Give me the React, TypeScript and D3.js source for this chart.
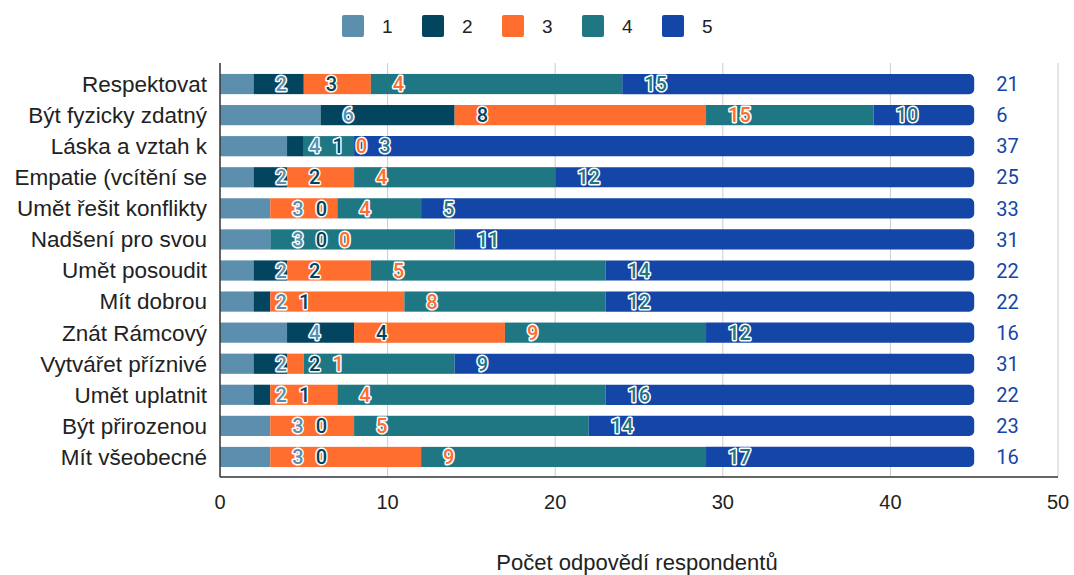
import React from "react";
import * as d3 from "d3";

const categories = [
  "Respektovat",
  "Být fyzicky zdatný",
  "Láska a vztah k",
  "Empatie (vcítění se",
  "Umět řešit konflikty",
  "Nadšení pro svou",
  "Umět posoudit",
  "Mít dobrou",
  "Znát Rámcový",
  "Vytvářet příznivé",
  "Umět uplatnit",
  "Být přirozenou",
  "Mít všeobecné",
];

const seriesNames = ["1", "2", "3", "4", "5"];
const s1 = [2, 6, 4, 2, 3, 3, 2, 2, 4, 2, 2, 3, 3];
const s2 = [3, 8, 1, 2, 0, 0, 2, 1, 4, 2, 1, 0, 0];
const s3 = [4, 15, 0, 4, 4, 0, 5, 8, 9, 1, 4, 5, 9];
const s4 = [15, 10, 3, 12, 5, 11, 14, 12, 12, 9, 16, 14, 17];
const s5 = [21, 6, 37, 25, 33, 31, 22, 22, 16, 31, 22, 23, 16];
const seriesValues = [s1, s2, s3, s4, s5];
const colors = ["#5B8FAD", "#03455F", "#FF6D2F", "#1F7783", "#1446A8"];
const xTicks = [0, 10, 20, 30, 40, 50];
const axisTitle = "Počet odpovědí respondentů";

const W = 1074;
const H = 575;
const left = 220;
const right = 1058;
const plotTop = 63;
const plotBottom = 477;

const sansFont = "Arial, 'Liberation Sans', sans-serif";
const labelFont = "Roboto, 'Noto Sans', sans-serif";

let ctx: CanvasRenderingContext2D | null = null;
function measure(text: string, font: string) {
  if (!ctx) {
    const c = document.createElement("canvas");
    ctx = c.getContext("2d");
  }
  if (!ctx) return text.length * 11;
  ctx.font = font;
  return ctx.measureText(text).width;
}

function roundRightRect(x: number, y: number, w: number, h: number, r: number) {
  const rr = Math.min(r, w / 2, h / 2);
  return `M${x},${y}H${x + w - rr}A${rr},${rr} 0 0 1 ${x + w},${y + rr}V${y + h - rr}A${rr},${rr} 0 0 1 ${x + w - rr},${y + h}H${x}Z`;
}

export default function App() {
  const x = d3.scaleLinear().domain([0, 50]).range([left, right]);
  const y = d3
    .scaleBand<string>()
    .domain(categories)
    .range([68.5, 472.5])
    .paddingInner(0.35)
    .paddingOuter(0.175);
  const bh = y.bandwidth();

  const rows = categories.map((cat, i) => {
    let cum = 0;
    let prevEnd = -Infinity;
    const segs: any[] = [];
    const labels: any[] = [];
    seriesValues.forEach((vals, k) => {
      const v = vals[i];
      const start = cum;
      cum += v;
      segs.push({ k, start, end: cum, v });
      const text = String(v);
      const w = measure(text, `500 20px ${labelFont}`);
      const lx = Math.max(x(cum) + 22, prevEnd + 12);
      prevEnd = lx + w;
      labels.push({ k, lx, text });
    });
    return { cat, segs, labels };
  });

  return (
    <svg width={W} height={H} style={{ display: "block", position: "absolute", left: 0, top: 0 }}>
      <rect width={W} height={H} fill="#fff" />
      {/* legend */}
      {seriesNames.map((n, k) => (
        <g key={n} transform={`translate(${342 + k * 80},15)`}>
          <rect width={22} height={22} rx={2} fill={colors[k]} />
          <text x={40} y={11} dy="0.35em" fontFamily={sansFont} fontSize={19} fill="#222">
            {n}
          </text>
        </g>
      ))}
      {/* grid */}
      {xTicks.slice(1).map((t) => (
        <line key={t} x1={x(t)} x2={x(t)} y1={plotTop} y2={plotBottom} stroke="#ccc" strokeWidth={1} />
      ))}
      {/* bars */}
      {rows.map((r) => {
        const yy = y(r.cat)!;
        return (
          <g key={r.cat}>
            {r.segs.map((s) =>
              s.v > 0 ? (
                s.k === 4 ? (
                  <path key={s.k} d={roundRightRect(x(s.start), yy, x(s.end) - x(s.start), bh, 5)} fill={colors[s.k]} />
                ) : (
                  <rect key={s.k} x={x(s.start)} y={yy} width={x(s.end) - x(s.start)} height={bh} fill={colors[s.k]} />
                )
              ) : null
            )}
          </g>
        );
      })}
      {/* labels */}
      {rows.map((r) => {
        const cy = y(r.cat)! + bh / 2;
        return (
          <g key={r.cat + "l"}>
            {r.labels.map((l) =>
              l.k < 4 ? (
                <text
                  key={l.k}
                  x={l.lx}
                  y={cy}
                  dy="0.36em"
                  fontFamily={labelFont}
                  fontWeight={500}
                  fontSize={20}
                  fill={colors[l.k]}
                  stroke="#fff"
                  strokeWidth={3}
                  strokeLinejoin="round"
                  paintOrder="stroke"
                >
                  {l.text}
                </text>
              ) : (
                <text key={l.k} x={l.lx} y={cy} dy="0.36em" fontFamily={labelFont} fontSize={20} fill={colors[4]}>
                  {l.text}
                </text>
              )
            )}
            <text x={207} y={cy} dy="0.35em" textAnchor="end" fontFamily={sansFont} fontSize={22.5} fill="#222">
              {r.cat}
            </text>
          </g>
        );
      })}
      {/* axes */}
      <line x1={left} x2={left} y1={plotTop} y2={plotBottom} stroke="#333" strokeWidth={1.5} />
      <line x1={left} x2={right} y1={plotBottom} y2={plotBottom} stroke="#333" strokeWidth={1.5} />
      {xTicks.map((t) => (
        <text key={t} x={x(t)} y={502} dy="0.35em" textAnchor="middle" fontFamily={sansFont} fontSize={20} fill="#222">
          {t}
        </text>
      ))}
      <text x={637} y={562} dy="0.35em" textAnchor="middle" fontFamily={sansFont} fontSize={22} fill="#222">
        {axisTitle}
      </text>
    </svg>
  );
}
